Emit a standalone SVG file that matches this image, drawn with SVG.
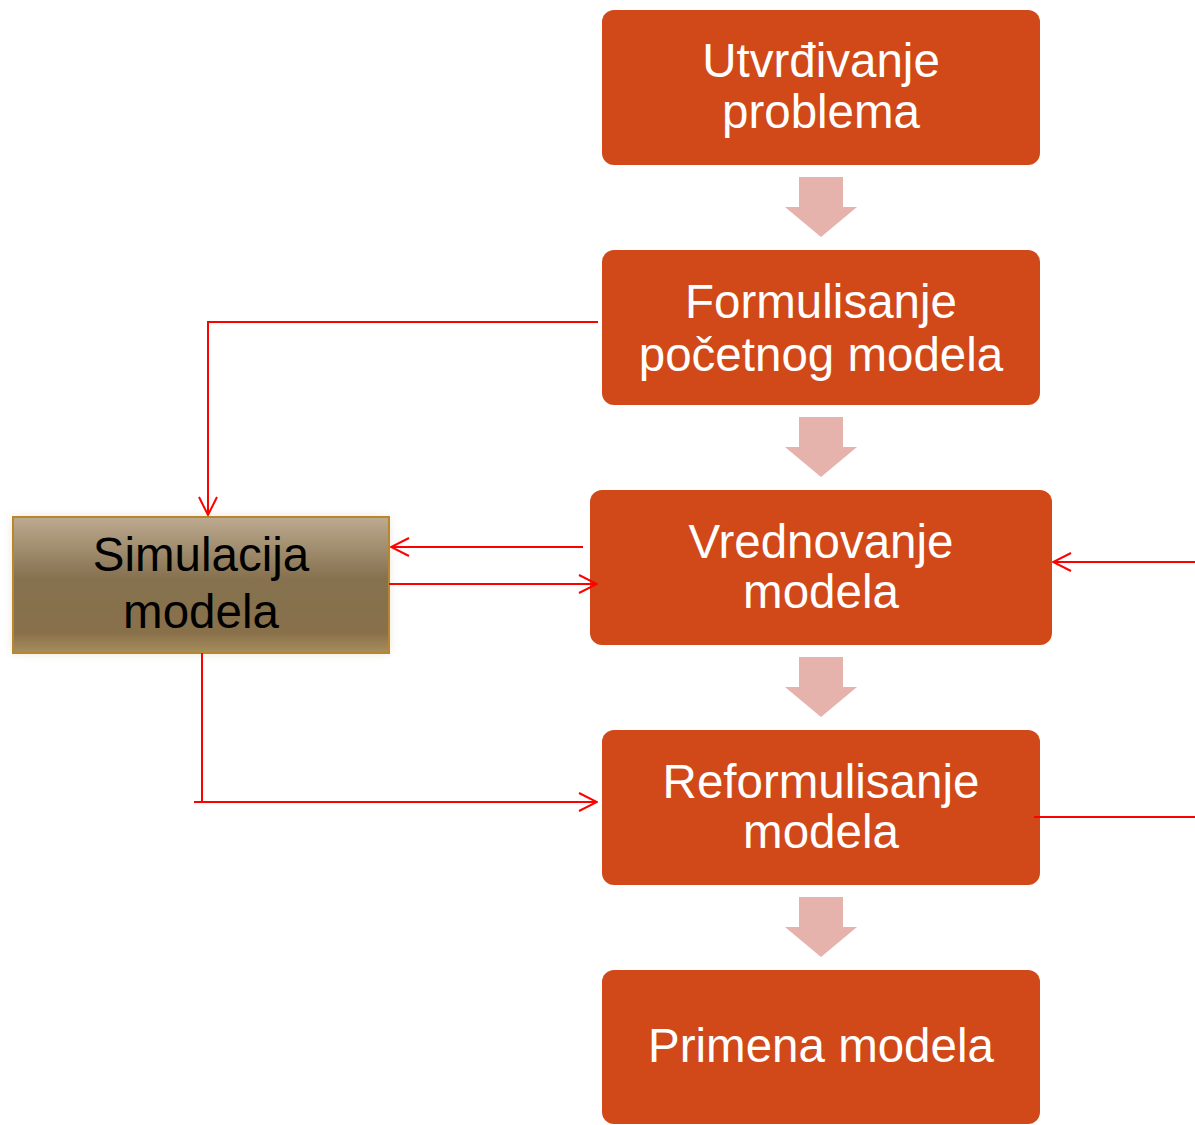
<svg xmlns="http://www.w3.org/2000/svg" width="1195" height="1125" viewBox="0 0 1195 1125">
<defs>
<linearGradient id="simg" x1="0" y1="0" x2="0" y2="1">
<stop offset="0" stop-color="#BDAA90"/>
<stop offset="0.45" stop-color="#867250"/>
<stop offset="0.85" stop-color="#88704A"/>
<stop offset="1" stop-color="#A88E5E"/>
</linearGradient>
<filter id="glow" x="-10%" y="-20%" width="120%" height="140%">
<feGaussianBlur stdDeviation="5"/>
</filter>
<marker id="open" viewBox="0 0 20 20" refX="19" refY="10" markerWidth="20" markerHeight="20" markerUnits="userSpaceOnUse" orient="auto">
<path d="M1,1 L19,10 L1,19" fill="none" stroke="#FF0000" stroke-width="2"/>
</marker>
</defs>
<style>
.box{fill:#D14919}
.wt{fill:#FFFFFF;font-family:"Liberation Sans",Arial,sans-serif;font-size:47.5px;text-anchor:middle}
.bt{fill:#000000;font-family:"Liberation Sans",Arial,sans-serif;font-size:47.5px;text-anchor:middle}
.dn{fill:#E6B2AC}
.c{fill:none;stroke:#FF0000;stroke-width:2}
</style>
<rect width="1195" height="1125" fill="#FFFFFF"/>
<g id="n1"><rect class="box" x="602" y="10" width="438" height="155" rx="12"/><text class="wt" x="821" y="77">Utvrđivanje</text><text class="wt" x="821" y="128">problema</text></g>
<g id="n2"><rect class="box" x="602" y="250" width="438" height="155" rx="12"/><text class="wt" x="821" y="318">Formulisanje</text><text class="wt" x="821" y="371">početnog modela</text></g>
<g id="n3"><rect class="box" x="590" y="490" width="462" height="155" rx="12"/><text class="wt" x="821" y="558">Vrednovanje</text><text class="wt" x="821" y="608">modela</text></g>
<g id="n4"><rect class="box" x="602" y="730" width="438" height="155" rx="12"/><text class="wt" x="821" y="798">Reformulisanje</text><text class="wt" x="821" y="848">modela</text></g>
<g id="n5"><rect class="box" x="602" y="970" width="438" height="154" rx="12"/><text class="wt" x="821" y="1062">Primena modela</text></g>
<g id="sim"><rect x="13" y="517" width="376" height="136" fill="#E8E2D8" filter="url(#glow)"/><rect x="13" y="517" width="376" height="136" fill="url(#simg)" stroke="#B8862B" stroke-width="2"/><text class="bt" x="201" y="571">Simulacija</text><text class="bt" x="201" y="628">modela</text></g>
<g id="flow">
<path class="dn" d="M799,177 H843 V207 H857 L821,237 L785,207 H799 Z"/>
<path class="dn" d="M799,417 H843 V447 H857 L821,477 L785,447 H799 Z"/>
<path class="dn" d="M799,657 H843 V687 H857 L821,717 L785,687 H799 Z"/>
<path class="dn" d="M799,897 H843 V927 H857 L821,957 L785,927 H799 Z"/>
</g>
<g id="connectors">
<path class="c" d="M598,322 H208 V515" marker-end="url(#open)"/>
<path class="c" d="M583,547 H391" marker-end="url(#open)"/>
<path class="c" d="M389,584 H597" marker-end="url(#open)"/>
<path class="c" d="M1195,562 H1053" marker-end="url(#open)"/>
<path class="c" d="M1034,817 H1195"/>
<path class="c" d="M202,653 V802"/>
<path class="c" d="M194,802 H597" marker-end="url(#open)"/>
</g>
</svg>
